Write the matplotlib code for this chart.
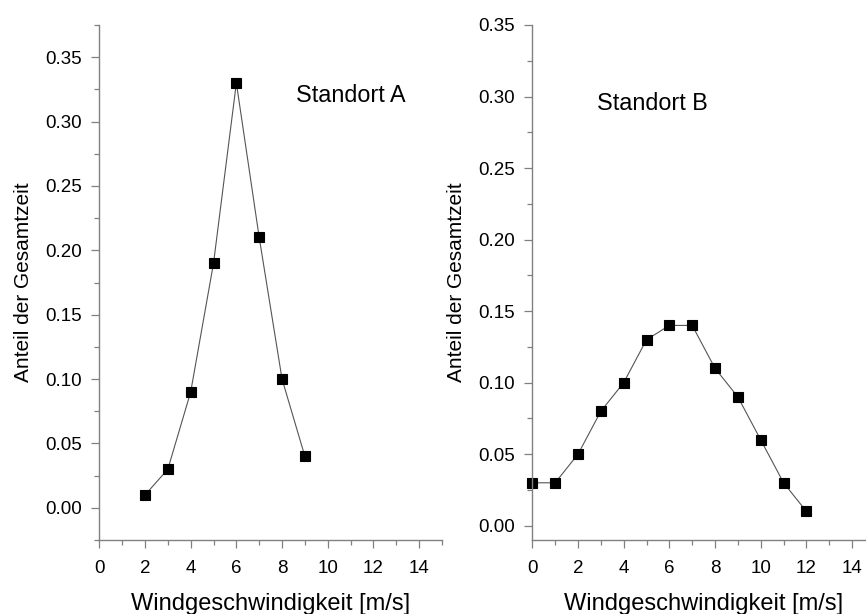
import numpy as np
import matplotlib
matplotlib.use("Agg")
import matplotlib.pyplot as plt
from matplotlib.ticker import MultipleLocator, FormatStrFormatter

plt.rcParams['font.family'] = ['Liberation Sans', 'DejaVu Sans']

# Daten Standort A / Standort B
wind_a = [2, 3, 4, 5, 6, 7, 8, 9]
anteil_a = [0.01, 0.03, 0.09, 0.19, 0.33, 0.21, 0.10, 0.04]

wind_b = [0, 1, 2, 3, 4, 5, 6, 7, 8, 9, 10, 11, 12]
anteil_b = [0.03, 0.03, 0.05, 0.08, 0.10, 0.13, 0.14, 0.14, 0.11, 0.09, 0.06, 0.03, 0.01]

fig = plt.figure(figsize=(8.66, 6.14), dpi=100)
ax1 = fig.add_axes([0.1147, 0.1205, 0.3956, 0.8388])
ax2 = fig.add_axes([0.6147, 0.1205, 0.3956, 0.8388])

axcol = '#808080'


def style(ax, ylim):
    ax.set_xlim(0, 15)
    ax.set_ylim(*ylim)
    for s in ['top', 'right']:
        ax.spines[s].set_visible(False)
    for s in ['left', 'bottom']:
        ax.spines[s].set_color(axcol)
        ax.spines[s].set_linewidth(1.0)
    ax.xaxis.set_major_locator(MultipleLocator(2))
    ax.xaxis.set_minor_locator(MultipleLocator(1))
    ax.yaxis.set_major_locator(MultipleLocator(0.05))
    ax.yaxis.set_minor_locator(MultipleLocator(0.025))
    ax.yaxis.set_major_formatter(FormatStrFormatter('%.2f'))
    ax.tick_params(which='major', length=5.8, width=0.9, color=axcol, labelsize=13.5,
                   direction='out', pad=6.5)
    ax.tick_params(axis='x', which='major', pad=8.5)
    ax.tick_params(which='minor', length=3.6, width=0.9, color=axcol, direction='out')
    ax.set_xlabel('Windgeschwindigkeit [m/s]', fontsize=17, labelpad=11.5)
    ax.set_ylabel('Anteil der Gesamtzeit', fontsize=15, labelpad=9)
    ax.patch.set_alpha(0)


ax1.plot(wind_a, anteil_a, color='#555555', lw=0.8, marker='s', ms=7, mew=0.8,
         mfc='black', mec='black', clip_on=False)
style(ax1, (-0.025, 0.375))
ax1.text(8.61, 0.320, 'Standort A', fontsize=16.8, va='center', ha='left')

ax2.plot(wind_b, anteil_b, color='#555555', lw=0.8, marker='s', ms=7, mew=0.8,
         mfc='black', mec='black', clip_on=False)
style(ax2, (-0.01, 0.35))
ax2.text(2.82, 0.295, 'Standort B', fontsize=16.8, va='center', ha='left')

fig.savefig('out.png', dpi=100)
